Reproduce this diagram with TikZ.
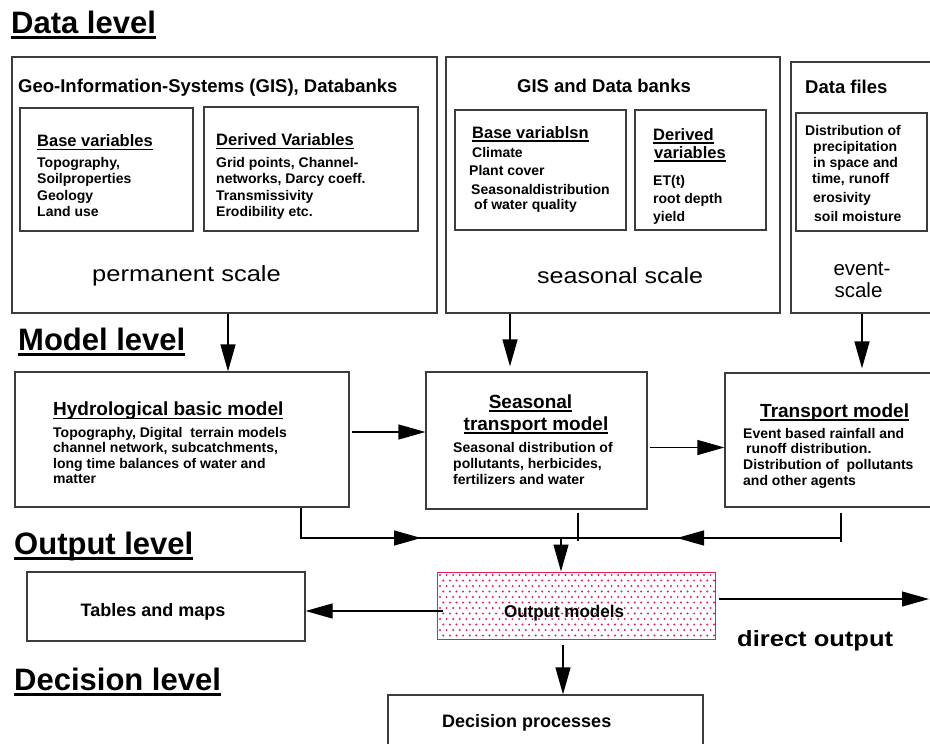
\documentclass[tikz,border=0pt]{standalone}
\usepackage{fontspec}
\setmainfont{Liberation Sans}
\usepackage{graphicx}
\usetikzlibrary{arrows.meta}
\newsavebox\ulsave
\newcommand{\myul}[3]{\sbox\ulsave{#3}\rlap{\rule[-#1]{\wd\ulsave}{#2}}\usebox\ulsave}
\newcommand{\fs}[1]{\fontsize{#1}{#1}\selectfont}
\definecolor{dotred}{RGB}{225,30,85}
\definecolor{boxgray}{RGB}{60,60,60}
\begin{document}
\begin{tikzpicture}[x=1pt,y=-1pt,
  box/.style={draw=boxgray,line width=1.2pt,inner sep=0},
  txt/.style={inner sep=0,anchor=base west,font=\bfseries\fs{14}},
  hd/.style={inner sep=0,anchor=base west,font=\bfseries\fs{16.5}},
  mt/.style={inner sep=0,anchor=base west,font=\bfseries\fs{19}},
  lvl/.style={inner sep=0,anchor=base west,font=\bfseries\fs{31}},
  ttl/.style={inner sep=0,anchor=base west,font=\bfseries\fs{18.5}},
  reg/.style={inner sep=0,anchor=base west,font=\fs{22}},
  arr/.style={-{Triangle[length=27pt,width=15pt]},line width=1.2pt,black},
  ln/.style={line width=1.2pt,black}]
\useasboundingbox (0,0) rectangle (930,744);

% ---------- level titles
\node[lvl] (Ldata) at (11,33) {\myul{6pt}{3pt}{Data level}};
\node[lvl] (Lmodel) at (18,350) {\myul{6pt}{3pt}{Model level}};
\node[lvl] (Lout) at (14,554) {\myul{6pt}{3pt}{Output level}};
\node[lvl] (Ldec) at (14,690) {\myul{6pt}{3pt}{Decision level}};

% ---------- data level boxes
\node[box,minimum width=425pt,minimum height=256pt] (gis) at (224.5,185) {};
\node[box,minimum width=173pt,minimum height=123pt] (gbase) at (106.5,169.5) {};
\node[box,minimum width=214pt,minimum height=124pt] (gder) at (311,169) {};
\node[box,minimum width=334pt,minimum height=256pt] (sgis) at (613,185) {};
\node[box,minimum width=171pt,minimum height=120pt] (sbase) at (540.5,170) {};
\node[box,minimum width=131pt,minimum height=120pt] (sder) at (700.5,170) {};
\node[box,minimum width=149pt,minimum height=251pt] (files) at (865.5,187.5) {};
\node[box,minimum width=131pt,minimum height=118pt] (fin) at (861.5,172) {};

\node[ttl] (tgis) at (18,92) {Geo-Information-Systems (GIS), Databanks};
\node[hd] (tgb) at (37,146) {\myul{4pt}{1.5pt}{Base variables}};
\node[txt] (gb1) at (37,167) {Topography,};
\node[txt] (gb2) at (37,183.5) {Soilproperties};
\node[txt] (gb3) at (37,200) {Geology};
\node[txt] (gb4) at (37,216.5) {Land use};
\node[hd] (tgd) at (216,145) {\myul{4pt}{1.5pt}{Derived Variables}};
\node[txt] (gd1) at (216,167) {Grid points, Channel-};
\node[txt] (gd2) at (216,183.5) {networks, Darcy coeff.};
\node[txt] (gd3) at (216,200) {Transmissivity};
\node[txt] (gd4) at (216,216.5) {Erodibility etc.};
\node[reg] (tperm) at (92,281) {\scalebox{1.16}[1]{permanent scale}};

\node[ttl,anchor=base] (tsgis) at (604,92) {GIS and Data banks};
\node[hd] (tsb) at (472,138) {\myul{3.5pt}{1.5pt}{Base variablsn}};
\node[txt] (sb1) at (472,157) {Climate};
\node[txt] (sb2) at (469,175) {Plant cover};
\node[txt] (sb3) at (471,194) {Seasonaldistribution};
\node[txt] (sb4) at (474,209) {of water quality};
\node[hd] (tsd1) at (653,140) {\myul{3.5pt}{1.5pt}{Derived}};
\node[hd] (tsd2) at (654,158) {\myul{3.5pt}{1.5pt}{variables}};
\node[txt] (sd1) at (653,185) {ET(t)};
\node[txt] (sd2) at (653,203) {root depth};
\node[txt] (sd3) at (653,221) {yield};
\node[reg] (tseas) at (537,283) {\scalebox{1.14}[1]{seasonal scale}};

\node[ttl] (tfiles) at (805,93) {Data files};
\node[txt] (f1) at (805,135) {Distribution of};
\node[txt] (f2) at (813,151) {precipitation};
\node[txt] (f3) at (813,167) {in space and};
\node[txt] (f4) at (812,183) {time, runoff};
\node[txt] (f5) at (813,202) {erosivity};
\node[txt] (f6) at (814,221) {soil moisture};
\node[inner sep=0,anchor=base,font=\fs{20.5}] (tev1) at (862,275) {event-};
\node[inner sep=0,anchor=base,font=\fs{20.5}] (tev2) at (858.5,297) {scale};

% ---------- model level boxes
\node[box,minimum width=334pt,minimum height=135pt] (hydro) at (182,439.5) {};
\node[box,minimum width=221pt,minimum height=137pt] (seas) at (536.5,440.5) {};
\node[box,minimum width=215pt,minimum height=134pt] (trans) at (832.5,440) {};

\node[mt] (th) at (53,415) {\myul{4pt}{1.5pt}{Hydrological basic model}};
\node[txt] (h1) at (53,437) {Topography, Digital\ \ terrain models};
\node[txt] (h2) at (53,452.5) {channel network, subcatchments,};
\node[txt] (h3) at (53,468) {long time balances of water and};
\node[txt] (h4) at (53,483.5) {matter};

\node[mt,anchor=base] (ts1) at (530.5,408) {\myul{3.5pt}{1.5pt}{Seasonal}};
\node[mt,anchor=base] (ts2) at (536,430) {\myul{3.5pt}{1.5pt}{transport model}};
\node[txt] (s1) at (453,452) {Seasonal distribution of};
\node[txt] (s2) at (453,468) {pollutants, herbicides,};
\node[txt] (s3) at (453,484) {fertilizers and water};

\node[mt] (tt) at (760,417) {\myul{3.5pt}{1.5pt}{Transport model}};
\node[txt] (r1) at (743,438) {Event based rainfall and};
\node[txt] (r2) at (746,453) {runoff distribution.};
\node[txt] (r3) at (743,469) {Distribution of\ \ pollutants};
\node[txt] (r4) at (743,485) {and other agents};

% ---------- output level
\node[draw=dotred,line width=1pt,fill=white,minimum width=278pt,minimum height=67pt,inner sep=0] (outm) at (576,605.5) {};
\foreach \r in {0,...,11}{
  \foreach \c in {0,...,41}{
    \fill[dotred] ({440+\c*6.6+mod(\r,2)*3.3},{575+\r*5.5}) circle (1.1pt);
  }
}
\node[inner sep=0,anchor=base,font=\bfseries\fs{17}] (tout) at (564,617) {Output models};

\node[box,minimum width=278pt,minimum height=69pt] (tab) at (166,606.5) {};
\node[inner sep=0,anchor=base,font=\bfseries\fs{18}] (ttab) at (153,616) {Tables and maps};

\node[inner sep=0,anchor=base west,font=\bfseries\fs{22}] (tdir) at (737,646) {\scalebox{1.16}[1]{direct output}};

% ---------- decision level
\node[box,minimum width=315pt,minimum height=65pt] (dec) at (545.5,727.5) {};
\node[inner sep=0,anchor=base west,font=\bfseries\fs{18}] (tdec) at (442,727) {Decision processes};

% ---------- connectors
\coordinate (xA) at (228,0);
\coordinate (xB) at (510,0);
\coordinate (xC) at (862,0);
\draw[arr] (gis.south -| xA) -- (hydro.north -| xA);
\draw[arr,shorten >=5pt] (sgis.south -| xB) -- (seas.north -| xB);
\draw[arr,shorten >=4pt] (files.south -| xC) -- (trans.north -| xC);

\coordinate (yA) at (0,432);
\coordinate (yB) at (0,447.5);
\draw[arr,shorten <=2pt] (hydro.east |- yA) -- (seas.west |- yA);
\draw[arr,shorten <=2pt] (seas.east |- yB) -- (trans.west |- yB);

\coordinate (c1) at (301,538);
\coordinate (c2) at (841,538);
\coordinate (cm) at (561,538);
\coordinate (ah1) at (421,538);
\coordinate (ah2) at (677,538);
\coordinate (xs) at (578,0);
\coordinate (s2) at (578,541);
\coordinate (t2) at (841,542);
\draw[ln] (hydro.south -| c1) -- (c1) -- (c2);
\draw[arr] (c1) -- (ah1);
\draw[arr] (c2) -- (ah2);
\draw[ln,shorten <=3pt] (seas.south -| xs) -- (s2);
\draw[ln,shorten <=5pt] (trans.south -| c2) -- (t2);
\draw[arr] (cm) -- (outm.north -| cm);

\coordinate (o1) at (443,611);
\coordinate (o2) at (929,599);
\coordinate (xD) at (563,0);
\draw[arr] (o1) -- (tab.east |- o1);
\draw[arr,shorten <=3pt] (outm.east |- o2) -- (o2);
\draw[arr,shorten <=5pt] (outm.south -| xD) -- (dec.north -| xD);
\end{tikzpicture}
\end{document}
